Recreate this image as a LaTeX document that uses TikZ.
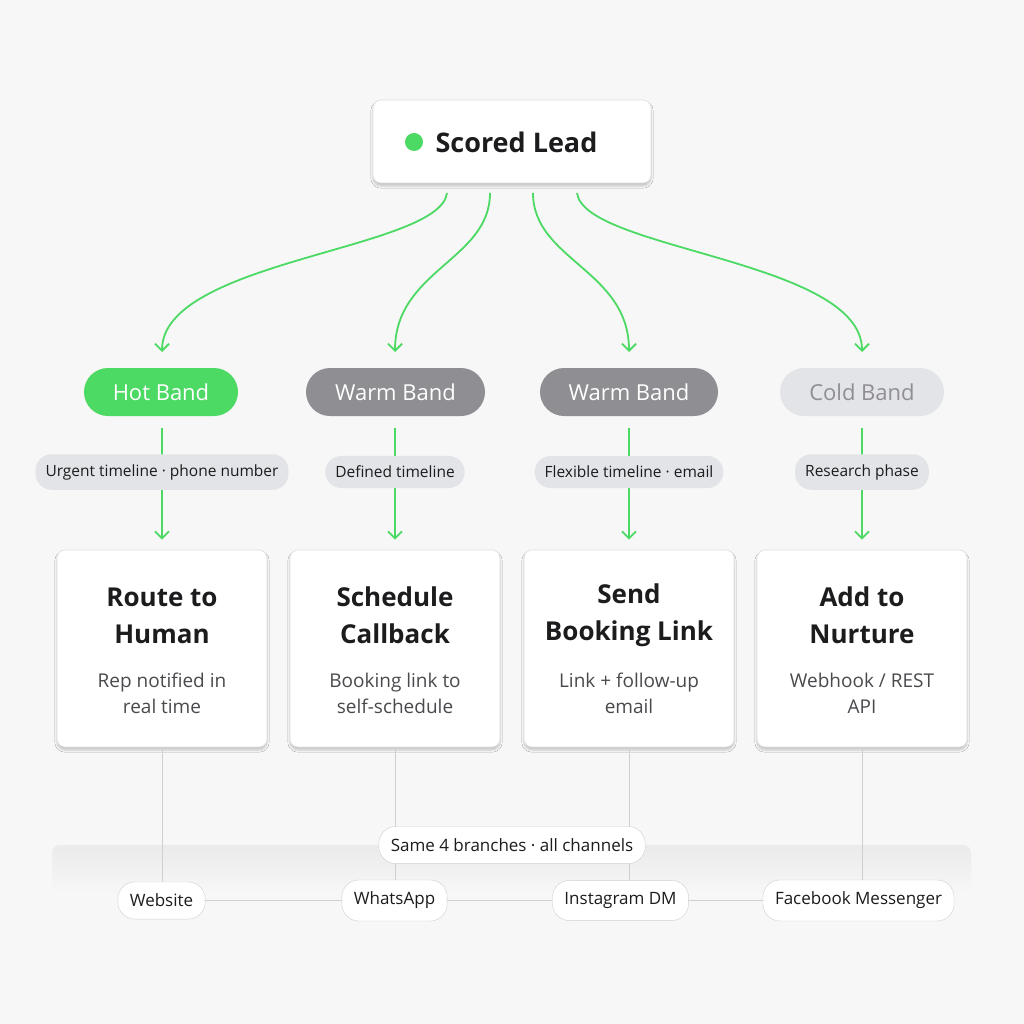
\documentclass[tikz,border=0pt]{standalone}
\usepackage{fontspec}
\setmainfont{Open Sans}
\usetikzlibrary{shadows.blur,arrows.meta}
\definecolor{grn}{HTML}{4CD964}
\definecolor{wgray}{HTML}{8E8E93}
\definecolor{lgray}{HTML}{E3E4E7}
\definecolor{txt}{HTML}{1C1C1E}
\definecolor{sub}{HTML}{4A4A4E}
\definecolor{ln}{HTML}{CFCFD3}
\begin{document}
\begin{tikzpicture}[x=1pt,y=-1pt,
  card/.style={draw=ln!70,line width=0.6pt,fill=white,rounded corners=8pt,blur shadow={shadow blur steps=6,shadow xshift=0pt,shadow yshift=-3pt,shadow opacity=20},minimum width=210pt,minimum height=197pt,inner sep=0pt},
  band/.style={rounded corners=24pt,minimum height=48pt,inner sep=0pt,font=\fontsize{22}{24}\selectfont},
  tag/.style={fill=lgray,rounded corners=16pt,minimum height=32pt,inner sep=10pt,font=\fontsize{15.5}{18}\selectfont,text=txt},
  chan/.style={draw=ln,fill=white,rounded corners=17pt,minimum height=35pt,inner sep=12pt,font=\fontsize{17}{20}\selectfont,text=txt},
  garr/.style={draw=grn,line width=1.8pt,-{Straight Barb[length=7pt,width=14pt,line width=1.8pt]}},
  glin/.style={draw=ln,line width=1pt}]
\fill[white!97!black] (0,0) rectangle (1024,1024);
\useasboundingbox (0,0) rectangle (1024,1024);
% top
\node[card,minimum width=278pt,minimum height=83pt] (top) at (512,141.5) {};
\fill[grn] (414,142) circle (9pt);
\node[font=\bfseries\fontsize{27}{30}\selectfont,text=txt,anchor=west] (tt) at (432,142) {Scored Lead};
\coordinate (s1) at (447,193); \coordinate (s2) at (490,193);
\coordinate (s3) at (533,193); \coordinate (s4) at (577,193);
\coordinate (e1) at (162,352); \coordinate (e2) at (395,352);
\coordinate (e3) at (629,352); \coordinate (e4) at (862,352);
% bands
\node[band,fill=grn,text=white,minimum width=154pt] (b1) at (161,392) {Hot Band};
\node[band,fill=wgray,text=white,minimum width=179pt] (b2) at (395.5,392) {Warm Band};
\node[band,fill=wgray,text=white,minimum width=178pt] (b3) at (629,392) {Warm Band};
\node[band,fill=lgray,text=wgray,minimum width=164pt] (b4) at (862,392) {Cold Band};
\draw[garr] (s1) .. controls (440,250) and (162,260) .. (e1);
\draw[garr] (s2) .. controls (490,260) and (395,270) .. (e2);
\draw[garr] (s3) .. controls (533,260) and (629,270) .. (e3);
\draw[garr] (s4) .. controls (584,250) and (862,260) .. (e4);
% cards
\foreach \i/\x/\t/\s in {1/162/{Route to\\Human}/{Rep notified in\\real time},
  2/395/{Schedule\\Callback}/{Booking link to\\self-schedule},
  3/629/{Send\\Booking Link}/{Link + follow-up\\email},
  4/862/{Add to\\Nurture}/{Webhook / REST\\API}}{
  \node[card] (c\i) at (\x,648.5) {};
  \node[font=\bfseries\fontsize{26}{37}\selectfont,text=txt,align=center] (ct\i) at (\x,615.5) {\t};
  \node[font=\fontsize{19}{26}\selectfont,text=sub,align=center] (cs\i) at (\x,693) {\s};
}
\foreach \i/\x/\l in {1/162/{Urgent timeline · phone number},2/395/{Defined timeline},3/629/{Flexible timeline · email},4/862/{Research phase}}{
  \coordinate (u\i) at (\x,428);
  \draw[garr] (u\i) -- ([yshift=10pt]c\i.north);
  \node[tag] (t\i) at (\x,472) {\l};
}
% bottom bar
\shade[top color=white!92!black,bottom color=white!97!black,rounded corners=8pt] (52,845) rectangle (971,895);
\coordinate (w1) at (161.5,900.5);
\coordinate (w2) at (394.5,900.5);
\coordinate (w3) at (620.5,900.5);
\coordinate (w4) at (858.5,900.5);
\foreach \i/\x in {1/162,2/395,3/629,4/862}{\draw[glin] (c\i.south) -- (\x,885);}
\draw[glin] (w1) -- (w4);
\node[chan] at (w1) {Website};
\node[chan] at (w2) {WhatsApp};
\node[chan] at (w3) {Instagram DM};
\node[chan] at (w4) {Facebook Messenger};
\node[chan,minimum height=34pt] (same) at (512,845) {Same 4 branches · all channels};
\end{tikzpicture}
\end{document}
